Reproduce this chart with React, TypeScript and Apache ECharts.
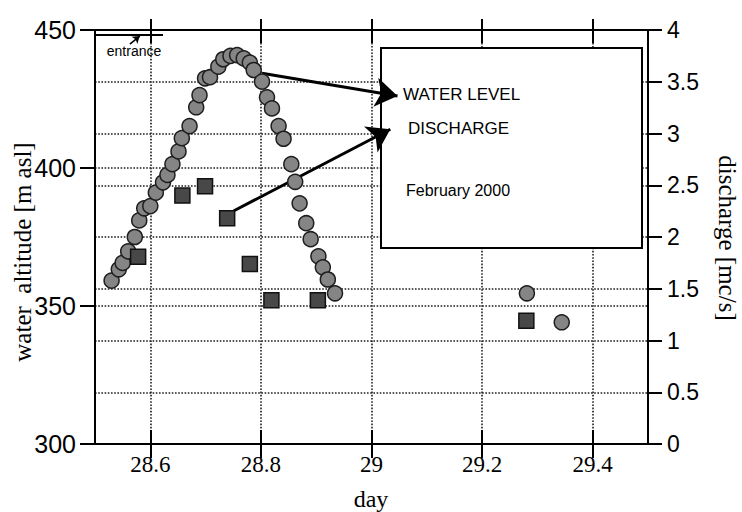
import React, { useEffect, useRef } from "react";
import * as echarts from "echarts";

const waterX = [28.530, 28.543, 28.550, 28.560, 28.572, 28.580, 28.589, 28.600, 28.610, 28.623, 28.631, 28.640, 28.651, 28.657, 28.671, 28.683, 28.689, 28.699, 28.708, 28.723, 28.732, 28.745, 28.757, 28.769, 28.780, 28.787, 28.802, 28.811, 28.820, 28.832, 28.841, 28.855, 28.862, 28.870, 28.882, 28.890, 28.904, 28.912, 28.921, 28.934, 29.281, 29.344];
const waterY = [359.2, 363.3, 365.6, 369.8, 375.0, 381.0, 385.4, 386.2, 391.1, 394.8, 397.5, 401.4, 406.0, 410.8, 415.2, 422.0, 426.4, 432.5, 432.9, 436.7, 439.4, 440.6, 440.9, 439.7, 438.2, 435.5, 431.3, 425.6, 421.6, 415.2, 410.6, 401.4, 395.0, 387.2, 380.0, 374.2, 368.0, 364.0, 359.6, 354.6, 354.6, 344.1];
const dischargeX = [28.578, 28.658, 28.699, 28.739, 28.780, 28.819, 28.903, 29.280];
const dischargeY = [1.81, 2.40, 2.49, 2.18, 1.74, 1.39, 1.39, 1.19];
const xTicks = [28.6, 28.8, 29, 29.2, 29.4];

const SANS = "Liberation Sans";
const SERIF = "Liberation Serif";

export default function App() {
  const ref = useRef<HTMLDivElement>(null);
  useEffect(() => {
    const chart = echarts.init(ref.current!, null, { renderer: "svg" });
    const gridStyle = { color: "#1e1e1e", width: 1.6, type: [1.6, 1.6] };
    const xBase = {
      type: "value",
      min: 28.5,
      max: 29.5,
      splitNumber: 5,
      axisLabel: { show: false },
      splitLine: { show: false },
      axisLine: { show: false },
    };
    chart.setOption({
      animation: false,
      backgroundColor: "#ffffff",
      grid: { left: 95, right: 94, top: 30, bottom: 68 },
      xAxis: [
        {
          ...xBase,
          position: "bottom",
          offset: 0,
          axisLine: { show: true, lineStyle: { color: "#000", width: 2 } },
          axisTick: { show: true, length: 14, lineStyle: { color: "#000", width: 2 }, customValues: xTicks },
          axisLabel: {
            show: true,
            customValues: xTicks,
            margin: 9,
            color: "#000",
            fontFamily: SERIF,
            fontSize: 23,
            formatter: (v: number) => String(Math.round(v * 10) / 10),
          },
          splitLine: { show: true, lineStyle: gridStyle },
        },
        {
          ...xBase,
          position: "bottom",
          offset: 0,
          axisTick: { show: true, inside: true, length: 14, lineStyle: { color: "#000", width: 2 }, customValues: xTicks },
        },
        {
          ...xBase,
          position: "top",
          offset: 0,
          axisLine: { show: true, lineStyle: { color: "#000", width: 2 } },
          axisTick: { show: true, length: 11, lineStyle: { color: "#000", width: 2 }, customValues: xTicks },
        },
        {
          ...xBase,
          position: "top",
          offset: 0,
          axisTick: { show: true, inside: true, length: 13, lineStyle: { color: "#000", width: 2 }, customValues: xTicks },
        },
      ],
      yAxis: [
        {
          type: "value",
          position: "left",
          min: 300,
          max: 450,
          interval: 50,
          axisLine: { show: true, lineStyle: { color: "#000", width: 2 } },
          axisTick: { show: true, length: 15, lineStyle: { color: "#000", width: 2 } },
          axisLabel: { margin: 19, color: "#000", fontFamily: SANS, fontSize: 25 },
          splitLine: { show: true, lineStyle: gridStyle },
        },
        {
          type: "value",
          position: "right",
          min: 0,
          max: 4,
          interval: 0.5,
          axisLine: { show: true, lineStyle: { color: "#000", width: 2 } },
          axisTick: { show: true, length: 14, lineStyle: { color: "#000", width: 2 } },
          axisLabel: { margin: 19, color: "#000", fontFamily: SANS, fontSize: 23 },
          splitLine: { show: true, lineStyle: gridStyle },
        },
      ],
      graphic: [
        {
          type: "rect",
          z: 3,
          shape: { x: 381, y: 48, width: 261, height: 200 },
          style: { fill: "#fff", stroke: "#000", lineWidth: 2 },
        },
        { type: "text", z: 4, x: 403, y: 94, style: { text: "WATER LEVEL", fontFamily: SANS, fontSize: 17, fill: "#000", verticalAlign: "middle" } },
        { type: "text", z: 4, x: 408, y: 128, style: { text: "DISCHARGE", fontFamily: SANS, fontSize: 17, fill: "#000", verticalAlign: "middle" } },
        { type: "text", z: 4, x: 406, y: 190, style: { text: "February 2000", fontFamily: SANS, fontSize: 16, fill: "#000", verticalAlign: "middle" } },
        { type: "text", z: 4, x: 134, y: 51, style: { text: "entrance", fontFamily: SANS, fontSize: 14, fill: "#000", align: "center", verticalAlign: "middle" } },
        {
          type: "text",
          x: 22,
          y: 252,
          rotation: Math.PI / 2,
          style: { text: "water  altitude [m asl]", fontFamily: SERIF, fontSize: 25, fill: "#000", align: "center", verticalAlign: "middle" },
        },
        {
          type: "text",
          x: 727,
          y: 238,
          rotation: -Math.PI / 2,
          style: { text: "discharge [mc/s]", fontFamily: SERIF, fontSize: 25, fill: "#000", align: "center", verticalAlign: "middle" },
        },
        {
          type: "text",
          x: 371,
          y: 499,
          style: { text: "day", fontFamily: SERIF, fontSize: 24, fill: "#000", align: "center", verticalAlign: "middle" },
        },
      ],
      series: [
        {
          name: "WATER LEVEL",
          type: "scatter",
          xAxisIndex: 0,
          yAxisIndex: 0,
          z: 10,
          symbol: "circle",
          symbolSize: 15,
          itemStyle: { color: "#858585", borderColor: "#1e1e1e", borderWidth: 1.5, opacity: 1 },
          data: waterX.map((x, i) => [x, waterY[i]]),
          markLine: {
            silent: true,
            animation: false,
            label: { show: false },
            data: [
              [
                { coord: [28.802, 434.3], symbol: "none" },
                { coord: [29.047, 426.1], symbol: "arrow", symbolSize: 22 },
              ],
              [
                { coord: [28.5, 448.2], symbol: "none", lineStyle: { width: 2 } },
                { coord: [28.623, 448.2], symbol: "none" },
              ],
              [
                { coord: [28.563, 444.9], symbol: "none", lineStyle: { width: 1.5 } },
                { coord: [28.581, 447.8], symbol: "arrow", symbolSize: 7 },
              ],
            ],
            lineStyle: { color: "#000", width: 3, type: "solid" },
          },
        },
        {
          name: "DISCHARGE",
          type: "scatter",
          xAxisIndex: 0,
          yAxisIndex: 1,
          z: 10,
          symbol: "rect",
          symbolSize: 15,
          itemStyle: { color: "#484848", borderColor: "#111", borderWidth: 1.5, opacity: 1 },
          data: dischargeX.map((x, i) => [x, dischargeY[i]]),
          markLine: {
            silent: true,
            animation: false,
            label: { show: false },
            data: [
              [
                { coord: [28.7505, 2.251], symbol: "none" },
                { coord: [29.034, 3.041], symbol: "arrow", symbolSize: 22 },
              ],
            ],
            lineStyle: { color: "#000", width: 3, type: "solid" },
          },
        },
      ],
    });
    return () => chart.dispose();
  }, []);
  return (
    <div
      ref={ref}
      style={{ position: "fixed", left: 0, top: 0, width: 742, height: 512, background: "#fff" }}
    />
  );
}
